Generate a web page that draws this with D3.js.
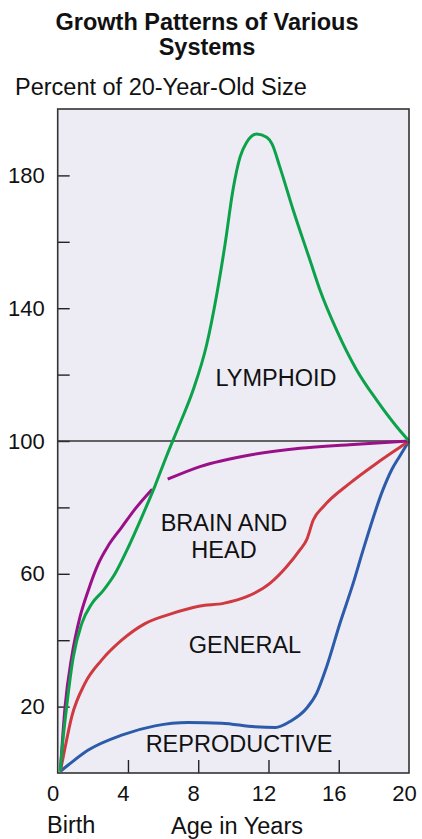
<!DOCTYPE html>
<html>
<head>
<meta charset="utf-8">
<script src="https://cdn.jsdelivr.net/npm/d3@7"></script>
<style>
  html, body { margin: 0; padding: 0; background: #ffffff; }
  svg { display: block; font-family: "Liberation Sans", Arial, Helvetica, sans-serif; }
</style>
</head>
<body>
<svg id="chart" width="422" height="839"></svg>
<script>
// ---- Data ----
const lymphoidAges   = [0.15, 0.23, 0.51, 0.89, 1.37, 1.94, 2.6, 3.26, 4.02, 4.78, 5.54, 6.2, 6.9, 7.72, 8.48, 9.05, 9.52, 9.99, 10.38, 10.76, 11.33, 11.9, 12.2, 12.65, 13.41, 14.36, 14.93, 15.88, 17.02, 18.16, 19.3, 20];
const lymphoidValues = [0.5, 6, 20, 35, 45, 51, 55, 60, 68, 77, 86.5, 95.5, 104.5, 115.5, 129, 144, 159, 176, 185.5, 190, 192.5, 191.5, 189.5, 182.5, 169.5, 154.5, 145.5, 133.4, 121.4, 112.3, 104.3, 100];

// null marks the break where the brain curve passes behind the lymphoid curve
const brainAges   = [0.15, 0.42, 0.8, 1.27, 1.74, 2.31, 2.88, 3.64, 4.4, 5.38, 5.8, 6.26, 8.1, 10.95, 13.8, 16.6, 20];
const brainValues = [0.5, 20, 35, 47, 55, 63, 68.5, 74, 79.5, 85.5, null, 88.5, 92.3, 95.8, 97.8, 98.9, 100];

const generalAges   = [0.15, 0.32, 0.8, 1.55, 2.5, 3.64, 4.97, 6.49, 8.1, 9.43, 10.76, 12.08, 13.03, 13.79, 14.17, 14.55, 15.12, 16.64, 18.16, 19.67, 20];
const generalValues = [0.5, 5, 17, 27, 34, 40, 45, 48, 50.3, 51.1, 53.1, 57.1, 62.1, 67.2, 70.2, 76.2, 80.2, 87.3, 93.3, 98.8, 100];

const reproAges   = [0.15, 0.6, 1.74, 3.64, 5.54, 7.43, 9.33, 11.23, 12.4, 13.22, 14.17, 14.74, 15.31, 16.07, 16.82, 17.39, 18.53, 19.0, 19.48, 20];
const reproValues = [0.5, 2.4, 6.9, 11.4, 14.2, 15.2, 15, 13.9, 13.7, 15.5, 19.5, 24, 32, 45.1, 57.1, 67.2, 85.5, 91.2, 95.5, 100];

const xTickValues = [0, 4, 8, 12, 16, 20];
const yTickValues = [20, 40, 60, 80, 100, 120, 140, 160, 180];
const yTickLabels = ["20", "", "60", "", "100", "", "140", "", "180"];
const seriesNames = ["LYMPHOID", "BRAIN AND\nHEAD", "GENERAL", "REPRODUCTIVE"];

const titleLines = ["Growth Patterns of Various", "Systems"];
const yAxisTitle = "Percent of 20-Year-Old Size";
const xAxisTitle = "Age in Years";
const xOriginLabel = "Birth";

// ---- Layout ----
const svg = d3.select("#chart");
const plotLeft = 57.7, plotRight = 409, plotTop = 109, plotBottom = 773;

const x = d3.scaleLinear().domain([0, 20]).range([plotLeft, plotRight]);
const y = d3.scaleLinear().domain([0, 200]).range([plotBottom, plotTop]);

// plot background
svg.append("rect")
  .attr("x", plotLeft).attr("y", plotTop)
  .attr("width", plotRight - plotLeft).attr("height", plotBottom - plotTop)
  .attr("fill", "#edecf5");

// axes
const yAxis = d3.axisLeft(y)
  .tickValues(yTickValues)
  .tickSizeInner(-12).tickSizeOuter(0)
  .tickPadding(13)
  .tickFormat((d, i) => yTickLabels[i]);
const gy = svg.append("g").attr("transform", `translate(${plotLeft},0)`).call(yAxis);
gy.select(".domain").remove();
gy.selectAll("line").attr("stroke", "#222").attr("stroke-width", 1.4);
gy.selectAll("text").attr("fill", "#111").style("font-size", "22px").attr("font-family", null);

const xAxis = d3.axisBottom(x)
  .tickValues(xTickValues)
  .tickSizeInner(-13).tickSizeOuter(0)
  .tickPadding(12)
  .tickFormat(d3.format("d"));
const gx = svg.append("g").attr("transform", `translate(0,${plotBottom})`).call(xAxis);
gx.select(".domain").remove();
gx.selectAll(".tick").filter(d => d === 0 || d === 20).select("line").remove();
gx.selectAll("line").attr("stroke", "#222").attr("stroke-width", 1.4);
gx.selectAll("text").attr("fill", "#111").attr("dx", -5).style("font-size", "22px").attr("font-family", null);

// 100% reference line
svg.append("line")
  .attr("x1", plotLeft).attr("x2", plotRight)
  .attr("y1", y(100)).attr("y2", y(100))
  .attr("stroke", "#333").attr("stroke-width", 1.5);

// curves
const line = d3.line()
  .defined(d => d[1] !== null)
  .x(d => x(d[0])).y(d => y(d[1]))
  .curve(d3.curveMonotoneX);

function drawSeries(ages, values, color) {
  const pts = ages.map((a, i) => [a, values[i]]);
  svg.append("path")
    .datum(pts)
    .attr("d", line)
    .attr("fill", "none")
    .attr("stroke", color)
    .attr("stroke-width", 3)
    .attr("stroke-linejoin", "round")
    .attr("stroke-linecap", "butt");
}
drawSeries(reproAges, reproValues, "#2b5ba9");
drawSeries(generalAges, generalValues, "#cf3a40");
drawSeries(brainAges, brainValues, "#9a1088");
drawSeries(lymphoidAges, lymphoidValues, "#0ca24a");

// plot border
svg.append("rect")
  .attr("x", plotLeft).attr("y", plotTop)
  .attr("width", plotRight - plotLeft).attr("height", plotBottom - plotTop)
  .attr("fill", "none").attr("stroke", "#333").attr("stroke-width", 1.6);

// series labels
const labelStyle = sel => sel.attr("fill", "#111").attr("text-anchor", "middle").style("font-size", "23.5px");
svg.append("text").call(labelStyle).attr("x", 276).attr("y", 386).text(seriesNames[0]);
const brainLines = seriesNames[1].split("\n");
svg.append("text").call(labelStyle).attr("x", 224).attr("y", 531).text(brainLines[0]);
svg.append("text").call(labelStyle).attr("x", 224).attr("y", 558).text(brainLines[1]);
svg.append("text").call(labelStyle).attr("x", 245).attr("y", 653).text(seriesNames[2]);
svg.append("text").call(labelStyle).attr("x", 239).attr("y", 752).text(seriesNames[3]);

// titles
svg.append("text").attr("x", 207).attr("y", 30).attr("text-anchor", "middle")
  .style("font-size", "23.5px").style("font-weight", "bold").attr("fill", "#111")
  .text(titleLines[0]);
svg.append("text").attr("x", 207).attr("y", 55).attr("text-anchor", "middle")
  .style("font-size", "23.5px").style("font-weight", "bold").attr("fill", "#111")
  .text(titleLines[1]);
svg.append("text").attr("x", 15).attr("y", 95)
  .style("font-size", "23.5px").attr("fill", "#111").text(yAxisTitle);

svg.append("text").attr("x", 47).attr("y", 833)
  .style("font-size", "23.5px").attr("fill", "#111").text(xOriginLabel);
svg.append("text").attr("x", 237).attr("y", 834).attr("text-anchor", "middle")
  .style("font-size", "23.5px").attr("fill", "#111").text(xAxisTitle);
</script>
</body>
</html>
